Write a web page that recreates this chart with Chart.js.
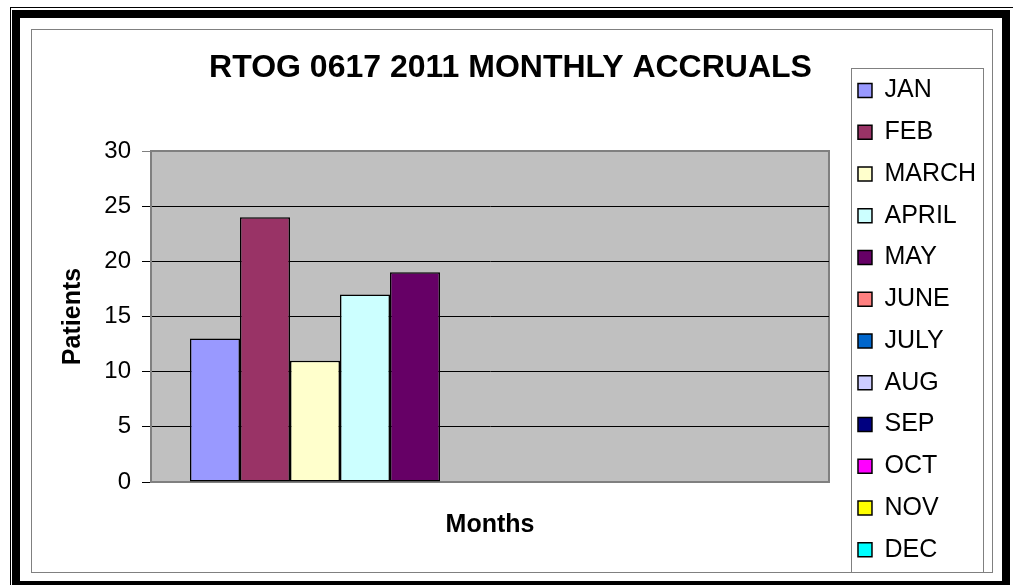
<!DOCTYPE html>
<html>
<head>
<meta charset="utf-8">
<title>RTOG 0617 2011 Monthly Accruals</title>
<script src="https://cdn.jsdelivr.net/npm/chart.js@4.4.1/dist/chart.umd.min.js"></script>
<style>
  html, body { margin: 0; padding: 0; background: #fff; }
  canvas { display: block; }
</style>
</head>
<body>
<canvas id="accrualChart" width="1013" height="585"></canvas>
<script>
// ===== Dữ liệu =====
const categories = ["2011"];
const months = ["JAN", "FEB", "MARCH", "APRIL", "MAY", "JUNE", "JULY", "AUG", "SEP", "OCT", "NOV", "DEC"];
const patients = [13, 24, 11, 17, 19, null, null, null, null, null, null, null];
const monthColors = ["#9999FF", "#993366", "#FFFFCC", "#CCFFFF", "#660066", "#FF8080",
  "#0066CC", "#CCCCFF", "#000080", "#FF00FF", "#FFFF00", "#00FFFF"];
const yTicks = [0, 5, 10, 15, 20, 25, 30];

Chart.defaults.font.family = '"Liberation Sans", Arial, sans-serif';
Chart.defaults.color = "#000";

// khung viền kiểu Excel + nền vùng vẽ
const framePlugin = {
  id: "excelFrame",
  beforeDraw(chart) {
    const { ctx, chartArea: a, width, height } = chart;
    ctx.save();
    ctx.fillStyle = "#fff";
    ctx.fillRect(0, 0, width, height);

    ctx.strokeStyle = "#000";
    ctx.lineWidth = 1;
    ctx.strokeRect(10.5, 7.5, 1010, 590);
    ctx.lineWidth = 8;
    ctx.strokeRect(16, 14, 990, 571);

    ctx.strokeStyle = "#808080";
    ctx.lineWidth = 1;
    ctx.strokeRect(31.5, 29.5, 961, 543);

    // nền xám vùng biểu đồ
    ctx.fillStyle = "#C0C0C0";
    ctx.fillRect(a.left, a.top, a.right - a.left, a.bottom - a.top);
    ctx.strokeStyle = "#808080";
    ctx.lineWidth = 2;
    ctx.strokeRect(a.left, a.top, a.right - a.left, a.bottom - a.top);

    // khung chú thích
    const lg = chart.legend;
    if (lg && lg.legendHitBoxes && lg.legendHitBoxes.length) {
      const top = lg.legendHitBoxes[0].top - 10;
      const left = Math.round(lg.left + 10) + 0.5;
      const right = Math.round(lg.right - 3) + 0.5;
      ctx.lineWidth = 1;
      ctx.strokeRect(left, Math.round(top) + 0.5, right - left, 572 - Math.round(top));
    }
    ctx.restore();
  },
};

const ctxAccrual = document.getElementById("accrualChart");
new Chart(ctxAccrual, {
  type: "bar",
  data: {
    labels: categories,
    datasets: months.map((m, i) => ({
      label: m,
      data: [patients[i]],
      backgroundColor: monthColors[i],
      borderColor: "#000",
      borderWidth: 1.5,
      borderSkipped: false,
      categoryPercentage: 0.885,
      barPercentage: 1,
    })),
  },
  options: {
    responsive: false,
    animation: false,
    layout: { padding: { left: 34.85, right: 26.85, top: 55.25, bottom: 0 } },
    plugins: {
      title: {
        display: true,
        text: "RTOG 0617 2011 MONTHLY ACCRUALS",
        color: "#000",
        font: { size: 32, weight: "bold", lineHeight: 0.8 },
        padding: { top: 0, bottom: 70.15 },
      },
      legend: {
        position: "right",
        labels: {
          boxWidth: 14,
          boxHeight: 14,
          padding: 16.75,
          color: "#000",
          font: { size: 25 },
        },
      },
      tooltip: { enabled: false },
    },
    scales: {
      x: {
        grid: { drawOnChartArea: false, drawTicks: false },
        ticks: { display: false },
        border: { color: "#808080", width: 2 },
        title: {
          display: true,
          text: "Months",
          color: "#000",
          font: { size: 25, weight: "bold" },
          padding: { top: 0, bottom: 45 },
        },
        afterFit(s) { s.height = 103; },
      },
      y: {
        min: 0,
        max: 30,
        afterBuildTicks(s) { s.ticks = yTicks.map((v) => ({ value: v })); },
        ticks: { padding: 11, color: "#000", font: { size: 24 } },
        grid: {
          color: (c) => (c.tick && c.tick.value === 30 ? "#808080" : "#000"),
          tickLength: 9,
        },
        border: { color: "#808080", width: 2 },
        title: {
          display: true,
          text: "Patients",
          color: "#000",
          font: { size: 25, weight: "bold" },
          padding: { top: 23.15, bottom: 0 },
        },
        afterFit(s) { s.width = 116.15; },
      },
      gap: {
        type: "linear",
        position: "right",
        grid: { display: false },
        ticks: { display: false },
        border: { display: false },
        afterFit(s) { s.width = 12.25; },
      },
    },
  },
  plugins: [framePlugin],
});
</script>
</body>
</html>
